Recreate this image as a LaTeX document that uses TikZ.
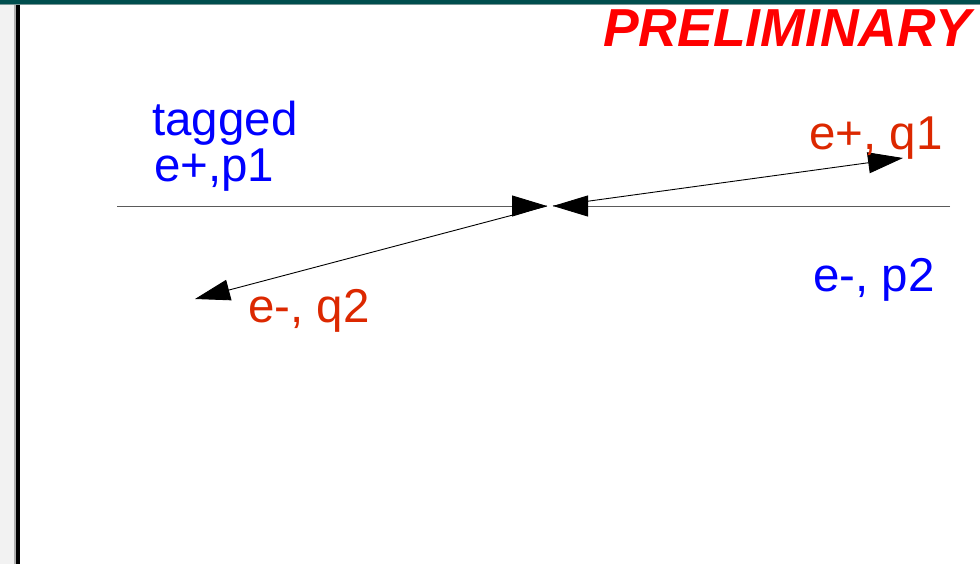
\documentclass[tikz,border=0pt]{standalone}
\usepackage{fontspec}
\setmainfont{Liberation Sans}
\usetikzlibrary{arrows.meta}
\definecolor{teal0}{RGB}{0,78,78}
\definecolor{tealline}{RGB}{120,150,150}
\definecolor{stripgray}{RGB}{242,242,242}
\definecolor{stripedge}{RGB}{175,175,175}
\definecolor{lblred}{RGB}{220,40,0}
\definecolor{lblblue}{RGB}{0,0,255}
\definecolor{axisgray}{RGB}{90,90,90}
\tikzset{
  lbl/.style={anchor=base west, inner sep=0pt, font=\fontsize{47.5}{47.5}\selectfont},
  bluelbl/.style={lbl, text=lblblue},
  redlbl/.style={lbl, text=lblred},
  bigtip/.style={-{Triangle[length=35pt,width=21pt,color=black]}},
  beamline/.style={bigtip, draw=axisgray, line width=0.9pt},
  trackline/.style={bigtip, draw=black, line width=0.9pt},
}
\begin{document}
\begin{tikzpicture}[x=1pt,y=-1pt]
\useasboundingbox (0,0) rectangle (980,564);
\fill[white] (0,0) rectangle (980,564);
% frame decorations
\fill[stripgray] (0,0) rectangle (14,564);
\fill[stripedge] (14,0) rectangle (16,564);
\fill[black] (16,0) rectangle (19.5,564);
\fill[teal0] (0,0) rectangle (980,4);
\fill[tealline] (0,4) rectangle (980,5);
% title
\node[anchor=base west, inner sep=0pt, text=red, font=\fontsize{53.5}{53.5}\selectfont\bfseries\itshape] (prelim) at (603,47) {PRELIMINARY};
% points
\coordinate (beamL) at (117,206);
\coordinate (tipL) at (547,206);
\coordinate (beamR) at (950,206);
\coordinate (tipR) at (553,206);
\coordinate (q1end) at (903,158);
\coordinate (q2end) at (195,299);
% beams
\draw[beamline] (beamL) -- (tipL);
\draw[beamline] (beamR) -- (tipR);
% outgoing tracks
\draw[trackline] (tipR) -- (q1end);
\draw[trackline] (tipL) -- (q2end);
% labels
\node[bluelbl] (tagged) at (152,136) {tagged};
\node[bluelbl] (ep1) at (154,182) {e+,p1};
\node[redlbl] (eq1) at (809,150) {e+, q1};
\node[bluelbl] (ep2) at (813,291) {e-, p2};
\node[redlbl] (eq2) at (248,322) {e-, q2};
\end{tikzpicture}
\end{document}
